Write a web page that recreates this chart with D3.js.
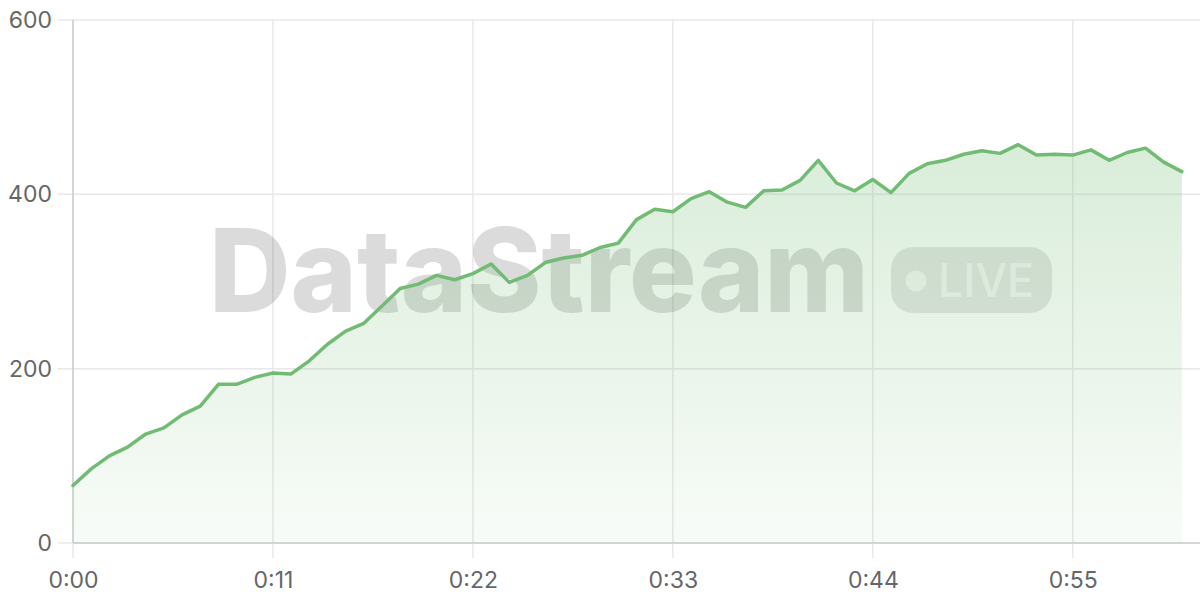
<!DOCTYPE html>
<html>
<head>
<meta charset="utf-8">
<script src="https://cdn.jsdelivr.net/npm/d3@7"></script>
<style>
  html, body { margin: 0; padding: 0; background: #fff; }
  svg { display: block; font-family: Inter, "Liberation Sans", Arial, sans-serif; }
</style>
</head>
<body>
<svg id="chart" width="1200" height="600"></svg>
<script>
// seconds since start
const seconds = d3.range(0, 62);
const values = [66, 85, 100, 110, 125, 132, 147, 157, 182, 182,
                190, 195, 194, 209, 228, 243, 252, 272, 292, 297,
                307, 302, 309, 320, 299, 307, 322, 327, 330, 339,
                344, 371, 383, 380, 395, 403, 391, 385, 404, 405,
                416, 439, 413, 404, 417, 402, 424, 435, 439, 446,
                450, 447, 457, 445, 446, 445, 451, 439, 448, 453,
                437, 426];
const xTickValues = [0, 11, 22, 33, 44, 55];
const yTickValues = [0, 200, 400, 600];
const watermarkText = "DataStream";
const badgeText = "LIVE";

const data = seconds.map((s, i) => ({ t: s, v: values[i] }));

const W = 1200, H = 600;
const margin = { left: 73, right: 0, top: 20, bottom: 57 };
const svg = d3.select("#chart");

const x = d3.scaleLinear().domain([0, 62]).range([margin.left, W - margin.right]);
const y = d3.scaleLinear().domain([0, 600]).range([H - margin.bottom, margin.top]);

const fmt = s => Math.floor(s / 60) + ":" + String(s % 60).padStart(2, "0");

// gradient
const defs = svg.append("defs");
const grad = defs.append("linearGradient").attr("id", "areaGrad")
  .attr("x1", 0).attr("y1", 0).attr("x2", 0).attr("y2", 1);
grad.append("stop").attr("offset", "0%").attr("stop-color", "#72bb74").attr("stop-opacity", 0.27);
grad.append("stop").attr("offset", "100%").attr("stop-color", "#72bb74").attr("stop-opacity", 0.05);

// grid
const grid = svg.append("g");
grid.selectAll(".vg").data(xTickValues).join("line")
  .attr("x1", d => x(d)).attr("x2", d => x(d))
  .attr("y1", y(600)).attr("y2", y(0) + 15)
  .attr("stroke", "#e8e8e8").attr("stroke-width", 1.5);
grid.selectAll(".hg").data(yTickValues).join("line")
  .attr("x1", x(0) - 15).attr("x2", W)
  .attr("y1", d => y(d)).attr("y2", d => y(d))
  .attr("stroke", "#e8e8e8").attr("stroke-width", 1.5);

// watermark
const wm = svg.append("g");
wm.append("text")
  .attr("x", 209).attr("y", 312)
  .attr("font-family", "Inter, 'Liberation Sans', Arial, sans-serif")
  .attr("font-weight", 800)
  .attr("font-size", 116)
  .attr("fill", "#000").attr("fill-opacity", 0.14)
  .attr("textLength", 660).attr("lengthAdjust", "spacingAndGlyphs")
  .text(watermarkText);
wm.append("rect")
  .attr("x", 891).attr("y", 247).attr("width", 161).attr("height", 66)
  .attr("rx", 22).attr("fill", "#000").attr("fill-opacity", 0.1);
wm.append("circle").attr("cx", 916).attr("cy", 281).attr("r", 10.5)
  .attr("fill", "#fff").attr("fill-opacity", 0.65);
wm.append("text")
  .attr("x", 938).attr("y", 297)
  .attr("font-family", "Inter, 'Liberation Sans', Arial, sans-serif")
  .attr("font-weight", 500).attr("font-size", 46)
  .attr("fill", "#fff").attr("fill-opacity", 0.65)
  .attr("textLength", 96).attr("lengthAdjust", "spacingAndGlyphs")
  .text(badgeText);

// axes lines
svg.append("line").attr("x1", x(0)).attr("x2", x(0)).attr("y1", y(600)).attr("y2", y(0))
  .attr("stroke", "#cccccc").attr("stroke-width", 1.5);
svg.append("line").attr("x1", x(0)).attr("x2", W).attr("y1", y(0)).attr("y2", y(0))
  .attr("stroke", "#cccccc").attr("stroke-width", 1.5);

// area + line
const area = d3.area().x(d => x(d.t)).y0(y(0)).y1(d => y(d.v));
const line = d3.line().x(d => x(d.t)).y(d => y(d.v));
svg.append("path").datum(data).attr("d", area).attr("fill", "url(#areaGrad)");
svg.append("path").datum(data).attr("d", line)
  .attr("fill", "none").attr("stroke", "#72bb74").attr("stroke-width", 3.5)
  .attr("stroke-linejoin", "round").attr("stroke-linecap", "round");

// tick labels via axes
const xAxis = d3.axisBottom(x).tickValues(xTickValues).tickFormat(fmt).tickSize(0).tickPadding(29);
const gx = svg.append("g").attr("transform", `translate(0,${y(0)})`).call(xAxis);
gx.select(".domain").remove();
gx.selectAll("text").attr("font-size", 23).attr("fill", "#666").attr("font-family", "Inter, 'Liberation Sans', Arial, sans-serif");

const yAxis = d3.axisLeft(y).tickValues(yTickValues).tickSize(0).tickPadding(21);
const gy = svg.append("g").attr("transform", `translate(${x(0)},0)`).call(yAxis);
gy.select(".domain").remove();
gy.selectAll("text").attr("font-size", 23).attr("fill", "#666").attr("font-family", "Inter, 'Liberation Sans', Arial, sans-serif");
</script>
</body>
</html>
